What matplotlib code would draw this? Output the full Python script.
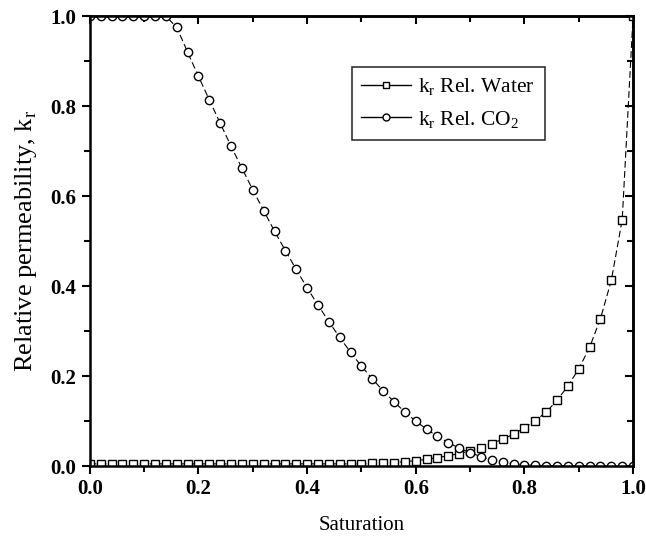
import numpy as np
import matplotlib.pyplot as plt
from matplotlib.lines import Line2D
from matplotlib.ticker import MultipleLocator

# saturation samples, step 0.02
saturation = [round(0.02 * i, 2) for i in range(51)]

kr_water = [0.005, 0.005, 0.005, 0.005, 0.005, 0.005, 0.005, 0.005, 0.005, 0.005,
            0.005, 0.005, 0.005, 0.005, 0.005, 0.005, 0.005, 0.005, 0.005, 0.005,
            0.005, 0.005, 0.005, 0.005, 0.005, 0.005, 0.006, 0.007, 0.008, 0.010,
            0.012, 0.015, 0.019, 0.023, 0.028, 0.034, 0.041, 0.050, 0.060, 0.071,
            0.085, 0.101, 0.120, 0.146, 0.178, 0.216, 0.264, 0.328, 0.413, 0.548,
            1.000]

kr_co2 = [1.000, 1.000, 1.000, 1.000, 1.000, 1.000, 1.000, 1.000, 0.975, 0.920,
          0.866, 0.814, 0.762, 0.711, 0.662, 0.614, 0.568, 0.522, 0.479, 0.437,
          0.396, 0.358, 0.321, 0.286, 0.253, 0.222, 0.194, 0.167, 0.143, 0.120,
          0.100, 0.082, 0.066, 0.052, 0.040, 0.030, 0.021, 0.014, 0.009, 0.005,
          0.003, 0.002, 0.001, 0.001, 0.001, 0.001, 0.001, 0.001, 0.001, 0.001,
          0.000]

labels = [r'k$_\mathrm{r}$ Rel. Water', r'k$_\mathrm{r}$ Rel. CO$_\mathrm{2}$']

plt.rcParams['font.family'] = ['Liberation Serif', 'DejaVu Serif']
plt.rcParams['mathtext.fontset'] = 'custom'
plt.rcParams['mathtext.rm'] = 'Liberation Serif'

fig = plt.figure(figsize=(6.46, 5.37), dpi=100)
ax = fig.add_axes([0.139, 0.132, 0.841, 0.838])

ax.plot(saturation, kr_water, color='black', lw=0.8, ls=(0, (6, 3)),
        marker='s', ms=5.5, mfc='white', mec='black', mew=1.0)
ax.plot(saturation, kr_co2, color='black', lw=0.8, ls=(0, (6, 3)),
        marker='o', ms=6, mfc='white', mec='black', mew=1.0)

ax.set_xlim(0, 1)
ax.set_ylim(0, 1)
ax.xaxis.set_major_locator(MultipleLocator(0.2))
ax.xaxis.set_minor_locator(MultipleLocator(0.1))
ax.yaxis.set_major_locator(MultipleLocator(0.2))
ax.yaxis.set_minor_locator(MultipleLocator(0.1))
ax.tick_params(which='both', direction='out', width=1.5, top=False, right=False)
ax.tick_params(which='major', length=6, labelsize=15)
ax.tick_params(which='minor', length=4)
for lab in ax.get_xticklabels() + ax.get_yticklabels():
    lab.set_fontweight('bold')

# inward mirrored ticks on top and right
ax_top = ax.secondary_xaxis('top')
ax_top.xaxis.set_major_locator(MultipleLocator(0.2))
ax_top.xaxis.set_minor_locator(MultipleLocator(0.1))
ax_top.tick_params(which='both', direction='in', width=1.5, labeltop=False)
ax_top.tick_params(which='major', length=6)
ax_top.tick_params(which='minor', length=4)
ax_right = ax.secondary_yaxis('right')
ax_right.yaxis.set_major_locator(MultipleLocator(0.2))
ax_right.yaxis.set_minor_locator(MultipleLocator(0.1))
ax_right.tick_params(which='both', direction='in', width=1.5, labelright=False)
ax_right.tick_params(which='major', length=6)
ax_right.tick_params(which='minor', length=4)

for sp in ax.spines.values():
    sp.set_linewidth(1.8)
ax_top.spines['top'].set_linewidth(1.8)
ax_right.spines['right'].set_linewidth(1.8)

ax.set_xlabel('Saturation', fontsize=15, labelpad=12)
ax.set_ylabel(r'Relative permeability, k$_\mathrm{r}$', fontsize=19, labelpad=8)

# legend handles use solid short segments like the original
handles = [Line2D([], [], color='black', lw=1.0, marker='s', ms=4.5,
                  mfc='white', mec='black', mew=1.0),
           Line2D([], [], color='black', lw=1.0, marker='o', ms=5,
                  mfc='white', mec='black', mew=1.0)]
leg = ax.legend(handles, labels, loc='upper left', bbox_to_anchor=(0.482, 0.887),
                fontsize=15.5, frameon=True, fancybox=False, edgecolor='black',
                handlelength=2.3, handletextpad=0.35, borderpad=0.45,
                labelspacing=0.5, borderaxespad=0)
leg.get_frame().set_linewidth(1.2)

fig.savefig('out.png', dpi=100)
